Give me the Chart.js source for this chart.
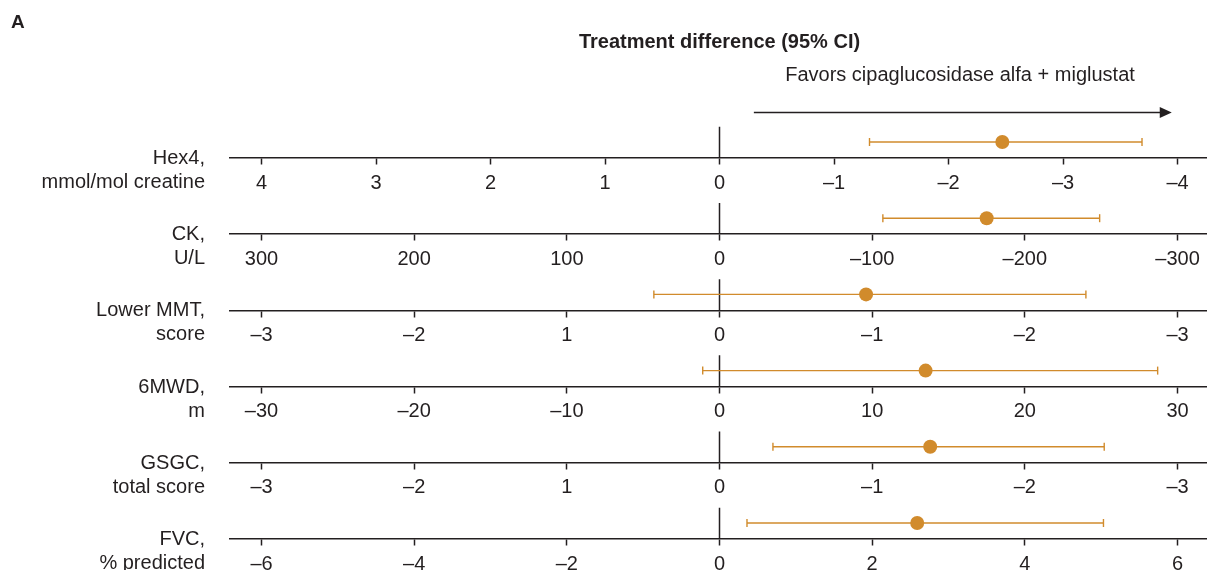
<!DOCTYPE html>
<html>
<head>
<meta charset="utf-8">
<script src="https://cdn.jsdelivr.net/npm/chart.js@4.4.1/dist/chart.umd.min.js"></script>
<style>
  html, body { margin: 0; padding: 0; background: #fff; }
  #wrap { width: 1207px; height: 570px; position: relative; }
</style>
</head>
<body>
<div id="wrap"><canvas id="forest"></canvas></div>
<script>
// outcome rows, top to bottom
const rowLabels = [
  ['Hex4,', 'mmol/mol creatine'],
  ['CK,', 'U/L'],
  ['Lower MMT,', 'score'],
  ['6MWD,', 'm'],
  ['GSGC,', 'total score'],
  ['FVC,', '% predicted']
];
// treatment difference and 95% CI
const estimates = [-2.47, -175, -0.96, 13.5, -1.38, 2.59];
const ciLow = [-1.31, -107, 0.43, -1.1, -0.35, 0.36];
const ciHigh = [-3.69, -249, -2.40, 28.7, -2.52, 5.03];

// tick values for each row's axis, and the labels printed for them
const tickValues = [
  [4, 3, 2, 1, 0, -1, -2, -3, -4],
  [300, 200, 100, 0, -100, -200, -300],
  [3, 2, 1, 0, -1, -2, -3],
  [-30, -20, -10, 0, 10, 20, 30],
  [3, 2, 1, 0, -1, -2, -3],
  [-6, -4, -2, 0, 2, 4, 6]
];
const tickLabels = [
  ['4', '3', '2', '1', '0', '–1', '–2', '–3', '–4'],
  ['300', '200', '100', '0', '–100', '–200', '–300'],
  ['–3', '–2', '1', '0', '–1', '–2', '–3'],
  ['–30', '–20', '–10', '0', '10', '20', '30'],
  ['–3', '–2', '1', '0', '–1', '–2', '–3'],
  ['–6', '–4', '–2', '0', '2', '4', '6']
];
const axisReversed = [true, true, true, false, true, false];
const axisOuterTick = [4, 300, 3, 30, 3, 6];

const ORANGE = '#d18b2c';
const INK = '#231f20';
const FONT = '"Liberation Sans", Arial, sans-serif';
Chart.defaults.font.family = FONT;
Chart.defaults.color = INK;

const ROW_H = 76.2;       // distance between axis lines (px)
const TOP_AXIS = 158;     // pixel of first axis line
const CH_HEIGHT = 570;
const EXT_LEFT = 1.0688;  // axis ends relative to outer tick
const EXT_RIGHT = 1.0644;

const datasets = [];
const scales = {
  y: {
    type: 'linear',
    reverse: true,
    min: -TOP_AXIS / ROW_H,
    max: (CH_HEIGHT - TOP_AXIS) / ROW_H,
    grid: { display: false, drawTicks: false },
    border: { display: false },
    ticks: {
      autoSkip: false,
      padding: 25,
      font: { size: 20, lineHeight: 1.2 },
      color: INK,
      callback: (v, i) => rowLabels[i]
    },
    afterBuildTicks: s => { s.ticks = rowLabels.map((_, i) => ({ value: i + 0.165 })); },
    afterFit: s => { s.width = 230; s.paddingTop = 0; s.paddingBottom = 0; }
  }
};

rowLabels.forEach((lab, i) => {
  const id = 'x' + i;
  const t = axisOuterTick[i];
  scales[id] = {
    type: 'linear',
    position: { y: i },
    reverse: axisReversed[i],
    min: axisReversed[i] ? -t * EXT_RIGHT : -t * EXT_LEFT,
    max: axisReversed[i] ? t * EXT_LEFT : t * EXT_RIGHT,
    grid: {
      display: true,
      drawOnChartArea: false,
      drawTicks: true,
      tickLength: 6,
      tickWidth: 1.5,
      tickColor: INK
    },
    border: { display: true, color: INK, width: 1.5 },
    ticks: {
      autoSkip: false,
      maxRotation: 0,
      padding: 7,
      color: INK,
      font: { size: 20 },
      callback: v => {
        const k = tickValues[i].indexOf(v);
        return k >= 0 ? tickLabels[i][k] : '';
      }
    },
    afterBuildTicks: s => { s.ticks = tickValues[i].map(v => ({ value: v })); },
    afterFit: s => { s.paddingLeft = 0; s.paddingRight = 0; }
  };

  // vertical line at zero
  datasets.push({
    type: 'line',
    xAxisID: id, yAxisID: 'y',
    data: [{ x: 0, y: i - 0.41 }, { x: 0, y: i }],
    borderColor: INK, borderWidth: 1.5,
    pointRadius: 0, order: 3
  });
  // confidence interval with end caps
  datasets.push({
    type: 'line',
    xAxisID: id, yAxisID: 'y',
    data: [{ x: ciLow[i], y: i - 0.21 }, { x: ciHigh[i], y: i - 0.21 }],
    borderColor: ORANGE, borderWidth: 1.4,
    pointStyle: 'line', pointRotation: 90, pointRadius: 4,
    pointBorderColor: ORANGE, pointBorderWidth: 1.4,
    order: 2
  });
  // point estimate
  datasets.push({
    type: 'scatter',
    xAxisID: id, yAxisID: 'y',
    data: [{ x: estimates[i], y: i - 0.21 }],
    backgroundColor: ORANGE, borderWidth: 0,
    pointRadius: 7, order: 1
  });
});

const headerPlugin = {
  id: 'header',
  afterDraw(chart) {
    const ctx = chart.ctx;
    const xs = chart.scales.x0;
    ctx.save();
    ctx.fillStyle = INK;
    ctx.textBaseline = 'middle';
    ctx.font = 'bold 19px ' + FONT;
    ctx.textAlign = 'left';
    ctx.fillText('A', 11, 23);
    ctx.font = 'bold 20px ' + FONT;
    ctx.textAlign = 'center';
    ctx.fillText('Treatment difference (95% CI)', xs.getPixelForValue(0), 42);
    ctx.font = '20px ' + FONT;
    ctx.fillText('Favors cipaglucosidase alfa + miglustat', 960, 75);

    // arrow
    const x1 = xs.getPixelForValue(-0.3), x2 = xs.getPixelForValue(-3.95), y = 112.5;
    ctx.strokeStyle = INK;
    ctx.lineWidth = 1.6;
    ctx.beginPath();
    ctx.moveTo(x1, y);
    ctx.lineTo(x2 - 10, y);
    ctx.stroke();
    ctx.beginPath();
    ctx.moveTo(x2, y);
    ctx.lineTo(x2 - 12, y - 5.5);
    ctx.lineTo(x2 - 12, y + 5.5);
    ctx.closePath();
    ctx.fill();
    ctx.restore();
  }
};

new Chart(document.getElementById('forest'), {
  data: { datasets },
  options: {
    responsive: true,
    maintainAspectRatio: false,
    animation: false,
    layout: { padding: 0, autoPadding: false },
    plugins: {
      legend: { display: false },
      tooltip: { enabled: false }
    },
    scales
  },
  plugins: [headerPlugin]
});
</script>
</body>
</html>
